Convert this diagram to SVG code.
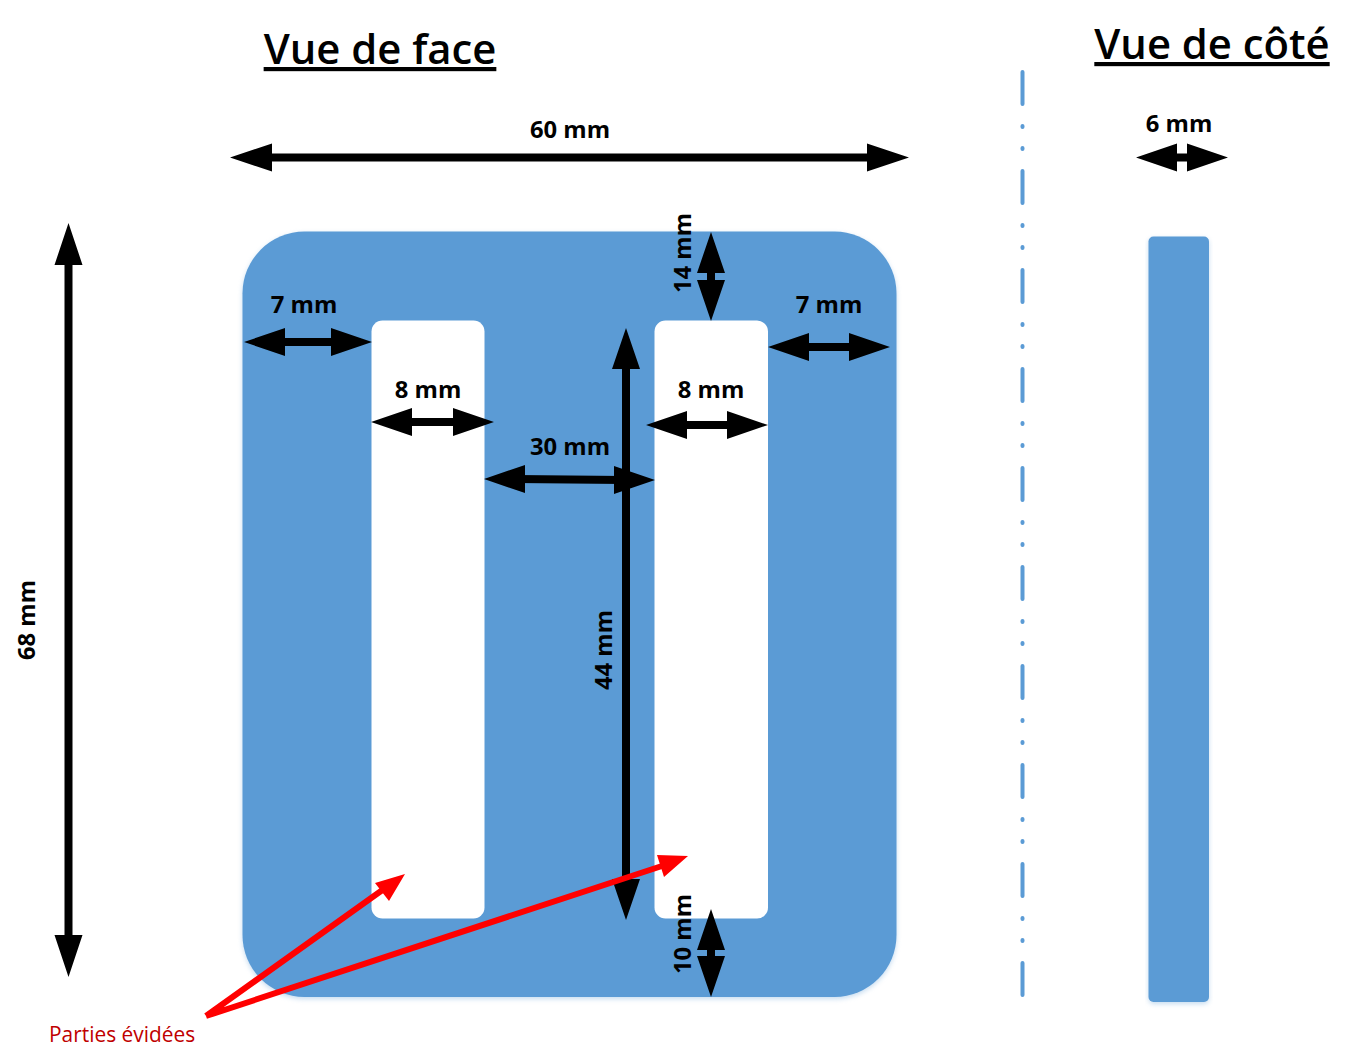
<svg xmlns="http://www.w3.org/2000/svg" width="1355" height="1062" viewBox="0 0 1355 1062">
<style>
text{font-family:"Open Sans","Noto Sans",sans-serif;font-weight:700;font-size:23.8px;fill:#000}
.t{font-size:41.8px;font-weight:600;text-decoration:underline}
.d{stroke:#000;stroke-width:8;fill:none}
.h{fill:#000}
.r{stroke:#f00;stroke-width:6;fill:none}
.b{fill:#5b9bd5;filter:url(#s)}
</style>
<defs><filter id="s" x="-5%" y="-5%" width="110%" height="110%" color-interpolation-filters="sRGB"><feDropShadow dx="0" dy="2" stdDeviation="2.500" flood-color="#5b9bd5" flood-opacity=".35"/></filter></defs>
<rect width="1355" height="1062" fill="#fff"/>
<g id="face">
<rect class="b" x="242.500" y="231.500" width="654" height="765.500" rx="62"/>
<rect x="371.500" y="320.500" width="113" height="598" rx="11" fill="#fff"/>
<rect x="654.500" y="320.500" width="113.500" height="598" rx="11" fill="#fff"/>
</g>
<g id="cote"><rect class="b" x="1148.500" y="236.500" width="60.500" height="765.500" rx="5"/></g>
<g id="axis"><line x1="1022.500" y1="72" x2="1022.500" y2="995" stroke="#5b9bd5" stroke-width="4" stroke-linecap="round" stroke-dasharray="32 22 1 21 1 22"/></g>
<g id="connectors">
<path class="d" d="M260 157.500H880M68.500 255V945M626 358V890M711 262V292M711 938V968M275 342H340M800 347H858M402 422H462M676 425H736M515 479L624 480M1167 157.500H1197"/>
<path class="h" d="M230 157.500l42-14v28zM909 157.500l-42-14v28zM68.500 223l14 42h-28zM68.500 977l14-42h-28zM626 328l14 41h-28zM626 920l14-41h-28zM711 232l14 41h-28zM711 321l14-41h-28zM711 909l14 41h-28zM711 997l14-41h-28zM244 342l41-14v28zM372 342l-41-14v28zM768 347l41-14v28zM890 347l-41-14v28zM371 422l41-14v28zM494 422l-41-14v28zM646 425l41-14v28zM768 425l-41-14v28zM484 479l41-14v28zM655 480l-41-14v28zM1136 157.500l41-14v28zM1228 157.500l-41-14v28z"/>
<path class="r" d="M206 1016L388 886M206 1016L668 864"/>
<path fill="#f00" d="M405 874l-16 27-14-18zM688 856l-24 21-7-22z"/>
</g>
<g id="labels">
<text class="t" x="380" y="64" text-anchor="middle">Vue de face</text>
<text class="t" x="1212" y="59" text-anchor="middle">Vue de côté</text>
<text x="570" y="138" text-anchor="middle">60 mm</text>
<text x="1179" y="132" text-anchor="middle">6 mm</text>
<text x="304" y="313" text-anchor="middle">7 mm</text>
<text x="829" y="313" text-anchor="middle">7 mm</text>
<text x="428" y="398" text-anchor="middle">8 mm</text>
<text x="711" y="398" text-anchor="middle">8 mm</text>
<text x="570" y="455" text-anchor="middle">30 mm</text>
<text transform="translate(35 620) rotate(-90)" text-anchor="middle">68 mm</text>
<text transform="translate(691 253) rotate(-90)" text-anchor="middle">14 mm</text>
<text transform="translate(612 650) rotate(-90)" text-anchor="middle">44 mm</text>
<text transform="translate(691 934) rotate(-90)" text-anchor="middle">10 mm</text>
<text x="49" y="1042" style="font-size:20.900px;font-weight:400;fill:#c00000">Parties évidées</text>
</g>
</svg>
